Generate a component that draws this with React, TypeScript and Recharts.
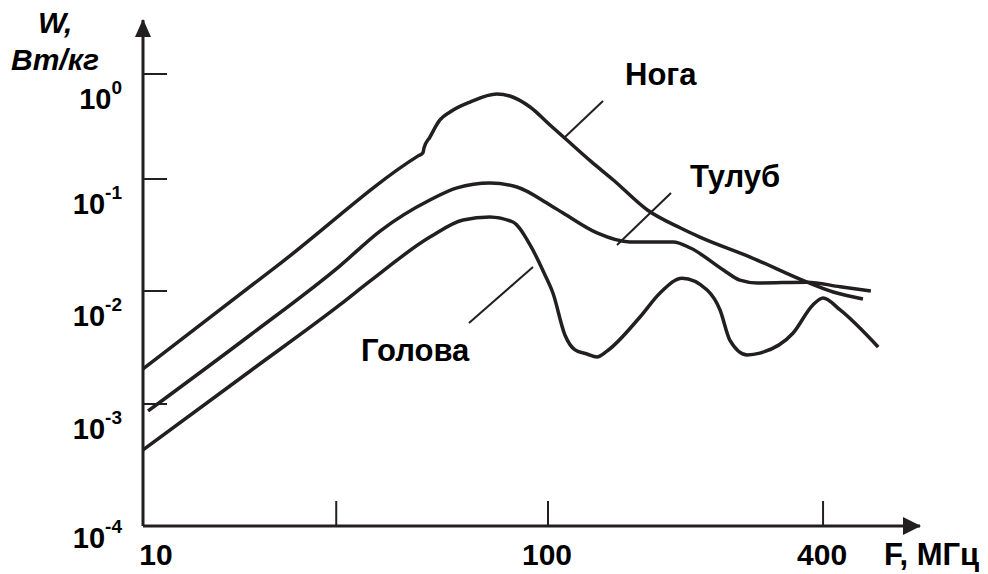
import React from 'react'
import { LineChart, Line, XAxis, YAxis, ReferenceDot } from 'recharts'

// frequency ticks (MHz) and W decades
const X_TICKS = [10, 30, 100, 400]
const X_TICK_LABELS = ['10', '', '100', '400']
const Y_EXPONENTS = [-4, -3, -2, -1, 0]

// Нога
const NOGA_F = [10, 22.2, 47.8, 49.1, 49.4, 51.1, 54.1, 57.3, 64.2, 74.8, 80.5, 90.3, 101, 110, 124, 139, 165, 195, 215, 277, 369, 421, 489]
const NOGA_W = [0.00204, 0.0185, 0.166, 0.177, 0.197, 0.251, 0.365, 0.435, 0.541, 0.645, 0.617, 0.485, 0.327, 0.235, 0.148, 0.098, 0.0529, 0.0365, 0.0303, 0.0201, 0.012, 0.0098, 0.0085]

// Тулуб
const TULUB_F = [10.29, 18.4, 30.6, 38.5, 51.1, 59.6, 71.9, 83.8, 101, 107.9, 128, 151, 188, 205, 242, 263, 287, 369, 436, 509]
const TULUB_W = [0.000877, 0.00408, 0.0167, 0.0343, 0.0649, 0.0832, 0.0921, 0.0849, 0.0586, 0.0497, 0.033, 0.0274, 0.0274, 0.0242, 0.0154, 0.0125, 0.0118, 0.012, 0.0109, 0.01]

// Голова
const HOLOVA_F = [10, 18.4, 30.6, 36.4, 51.1, 61.7, 71.9, 81.9, 90.3, 98.3, 102.5, 108.9, 114.6, 121.7, 128, 134.6, 159, 175.9, 196.5, 223, 238, 250, 273, 291, 344, 380, 400, 436, 528]
const HOLOVA_W = [0.00042, 0.00196, 0.00752, 0.0123, 0.0303, 0.0431, 0.0458, 0.0413, 0.0258, 0.0139, 0.0096, 0.00408, 0.00301, 0.00277, 0.00261, 0.00294, 0.00589, 0.0096, 0.013, 0.0102, 0.00679, 0.00368, 0.00272, 0.00282, 0.00425, 0.00752, 0.00867, 0.00679, 0.00319]

const INK = '#231f20'
const FONT = "'Liberation Sans', Arial, sans-serif"

// the original axes are hand drawn: the decade above 100 MHz is stretched,
// and the W decades are not all the same height
const X_STRETCH = 1.128
const X_MAX = 2.9185
const Y_DECADE_HEIGHTS = [122, 113, 112, 105]
const Y_MAX = 506

const xu = (f: number) => {
  const lf = Math.log10(f)
  return lf <= 2 ? lf : 2 + (lf - 2) * X_STRETCH
}

const yv = (w: number) => {
  const e = Math.log10(w) + 4
  let pos = 0
  for (let i = 0; i < Y_DECADE_HEIGHTS.length; i++) {
    const part = Math.min(Math.max(e - i, 0), 1)
    pos += part * Y_DECADE_HEIGHTS[i]
    if (e - i < 1) return pos
  }
  return pos + (e - Y_DECADE_HEIGHTS.length) * Y_DECADE_HEIGHTS[Y_DECADE_HEIGHTS.length - 1]
}

const toSeries = (fs: number[], ws: number[]) => fs.map((f, i) => ({ u: xu(f), v: yv(ws[i]) }))

const nogaData = toSeries(NOGA_F, NOGA_W)
const tulubData = toSeries(TULUB_F, TULUB_W)
const holovaData = toSeries(HOLOVA_F, HOLOVA_W)

const X_TICK_U = X_TICKS.map(xu)
const Y_TICK_V = Y_EXPONENTS.map((e) => yv(Math.pow(10, e)))

const nearest = (arr: number[], v: number) => {
  let best = 0
  arr.forEach((a, i) => {
    if (Math.abs(a - v) < Math.abs(arr[best] - v)) best = i
  })
  return best
}

const XTick = (props: any) => {
  const { x, y, payload } = props
  const i = nearest(X_TICK_U, payload.value)
  return (
    <g>
      {i > 0 && <line x1={x} x2={x} y1={y - 25} y2={y} stroke={INK} strokeWidth={2} />}
      <text
        x={i === 0 ? x + 13 : x - 1}
        y={y + 39}
        textAnchor="middle"
        fontFamily={FONT}
        fontWeight="bold"
        fontSize={30}
        fill="#000"
      >
        {X_TICK_LABELS[i]}
      </text>
    </g>
  )
}

const YTick = (props: any) => {
  const { x, y, payload } = props
  const e = Y_EXPONENTS[nearest(Y_TICK_V, payload.value)]
  return (
    <g>
      {e > -4 && <line x1={x} x2={x + 24} y1={y} y2={y} stroke={INK} strokeWidth={2} />}
      <text
        x={x - 21}
        y={y + (e === -4 ? 22 : 35)}
        textAnchor="end"
        fontFamily={FONT}
        fontWeight="bold"
        fontSize={29}
        fill="#000"
      >
        10
        <tspan dy={-15} fontSize={19}>
          {e}
        </tspan>
      </text>
    </g>
  )
}

const XArrow = (props: any) => (
  <polygon points={`${props.cx + 1},${props.cy} ${props.cx - 17},${props.cy - 9} ${props.cx - 17},${props.cy + 9}`} fill={INK} />
)

const YArrow = (props: any) => (
  <polygon points={`${props.cx},${props.cy - 1} ${props.cx - 8},${props.cy + 17} ${props.cx + 8},${props.cy + 17}`} fill={INK} />
)

const labelStyle = { fontFamily: FONT, fontWeight: 'bold' as const, fontSize: 31, fill: '#000' }

export default function App() {
  return (
    <div style={{ position: 'absolute', left: 0, top: 0, background: '#fff' }}>
      <LineChart width={988} height={574} margin={{ top: 20, right: 68, bottom: 0, left: 0 }}>
        <XAxis
          type="number"
          dataKey="u"
          domain={[1, X_MAX]}
          ticks={X_TICK_U}
          allowDataOverflow
          height={48}
          tickSize={0}
          tickMargin={0}
          tickLine={false}
          axisLine={{ stroke: INK, strokeWidth: 3 }}
          tick={<XTick />}
          interval={0}
        />
        <YAxis
          type="number"
          dataKey="v"
          domain={[0, Y_MAX]}
          ticks={Y_TICK_V}
          allowDataOverflow
          width={143}
          tickSize={0}
          tickMargin={0}
          tickLine={false}
          axisLine={{ stroke: INK, strokeWidth: 3 }}
          tick={<YTick />}
          interval={0}
        />
        <Line data={nogaData} dataKey="v" type="monotone" stroke={INK} strokeWidth={3.5} dot={false} activeDot={false} isAnimationActive={false} />
        <Line data={tulubData} dataKey="v" type="monotone" stroke={INK} strokeWidth={3.5} dot={false} activeDot={false} isAnimationActive={false} />
        <Line data={holovaData} dataKey="v" type="monotone" stroke={INK} strokeWidth={3.5} dot={false} activeDot={false} isAnimationActive={false} />
        <ReferenceDot x={X_MAX} y={0} ifOverflow="visible" shape={<XArrow />} />
        <ReferenceDot x={1} y={Y_MAX} ifOverflow="visible" shape={<YArrow />} />

        {/* series labels with leader lines */}
        <line x1={565} y1={137} x2={603} y2={101} stroke={INK} strokeWidth={2} />
        <line x1={617} y1={245} x2={671} y2={193} stroke={INK} strokeWidth={2} />
        <line x1={469} y1={323} x2={533} y2={267} stroke={INK} strokeWidth={2} />
        <text x={625} y={85} {...labelStyle}>Нога</text>
        <text x={690} y={187} {...labelStyle}>Тулуб</text>
        <text x={361} y={361} {...labelStyle}>Голова</text>

        {/* axis titles */}
        <text x={38} y={33} fontFamily={FONT} fontWeight="bold" fontStyle="italic" fontSize={30} fill="#000">W,</text>
        <text x={11} y={70} fontFamily={FONT} fontWeight="bold" fontStyle="italic" fontSize={30} fill="#000">Вт/кг</text>
        <text x={884} y={565} fontFamily={FONT} fontWeight="bold" fontSize={31} fill="#000">F, МГц</text>
      </LineChart>
    </div>
  )
}
